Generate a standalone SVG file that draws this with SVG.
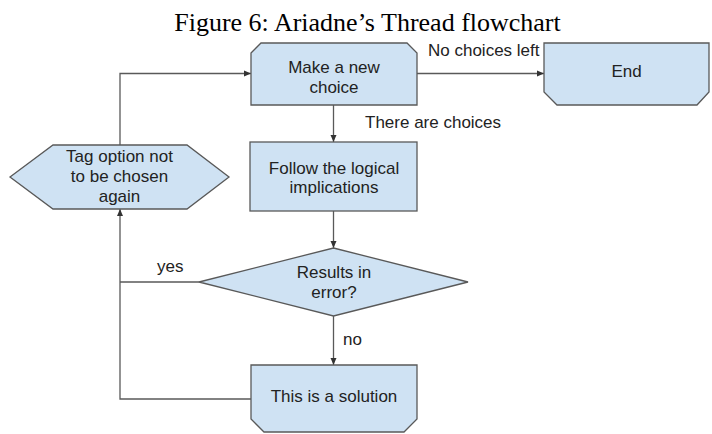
<svg xmlns="http://www.w3.org/2000/svg" width="712" height="434" viewBox="0 0 712 434">
<style>
.node{fill:#cfe2f3;stroke:#595959;stroke-width:1.3}
.t{font-family:"Liberation Sans",Arial,sans-serif;font-size:17px;fill:#222}
.c{text-anchor:middle}
.edge{fill:none;stroke:#595959;stroke-width:1.3}
.title{font-family:"Liberation Serif","Times New Roman",serif;font-size:26px;fill:#000;text-anchor:middle}
</style>
<defs>
<marker id="arr" markerUnits="userSpaceOnUse" markerWidth="8" markerHeight="8" viewBox="0 0 8 8" refX="7" refY="4" orient="auto">
<path d="M0,1 L7,4 L0,7 Z" fill="#333"/>
</marker>
</defs>
<rect width="712" height="434" fill="#fff"/>
<text class="title" x="367.5" y="31">Figure 6: Ariadne’s Thread flowchart</text>
<g id="connectors">
<path class="edge" d="M417,73.5 L544,73.5" marker-end="url(#arr)"/>
<path class="edge" d="M333.5,105 L333.5,142" marker-end="url(#arr)"/>
<path class="edge" d="M333.5,211 L333.5,248" marker-end="url(#arr)"/>
<path class="edge" d="M333.5,316 L333.5,365" marker-end="url(#arr)"/>
<path class="edge" d="M199,282 L120,282"/>
<path class="edge" d="M251,399 L120,399 L120,209" marker-end="url(#arr)"/>
<path class="edge" d="M120,145 L120,73.5 L251,73.5" marker-end="url(#arr)"/>
<text class="t" x="428" y="56">No choices left</text>
<text class="t" x="365" y="128">There are choices</text>
<text class="t" x="157" y="272">yes</text>
<text class="t" x="343" y="345">no</text>
</g>
<g id="make">
<path class="node" d="M251,53 L261,43 L407,43 L417,53 L417,105 L251,105 Z"/>
<text class="t c" x="334" y="73">Make a new</text>
<text class="t c" x="334" y="93">choice</text>
</g>
<g id="end">
<path class="node" d="M544,43 L709,43 L709,92 L697,105 L557,105 L544,92 Z"/>
<text class="t c" x="626.5" y="77">End</text>
</g>
<g id="follow">
<rect class="node" x="250" y="142" width="167" height="69"/>
<text class="t c" x="334" y="174">Follow the logical</text>
<text class="t c" x="334" y="193">implications</text>
</g>
<g id="tag">
<polygon class="node" points="10,177 53,145 187,145 229,177 187,209 53,209"/>
<text class="t c" x="119.5" y="161.5">Tag option not</text>
<text class="t c" x="119.5" y="181.5">to be chosen</text>
<text class="t c" x="119.5" y="201.5">again</text>
</g>
<g id="decision">
<polygon class="node" points="333.5,248 468,282 333.5,316 199,282"/>
<text class="t c" x="334" y="278">Results in</text>
<text class="t c" x="334" y="298">error?</text>
</g>
<g id="solution">
<path class="node" d="M251,365 L417,365 L417,419 L404,432 L264,432 L251,419 Z"/>
<text class="t c" x="334" y="402">This is a solution</text>
</g>
</svg>
